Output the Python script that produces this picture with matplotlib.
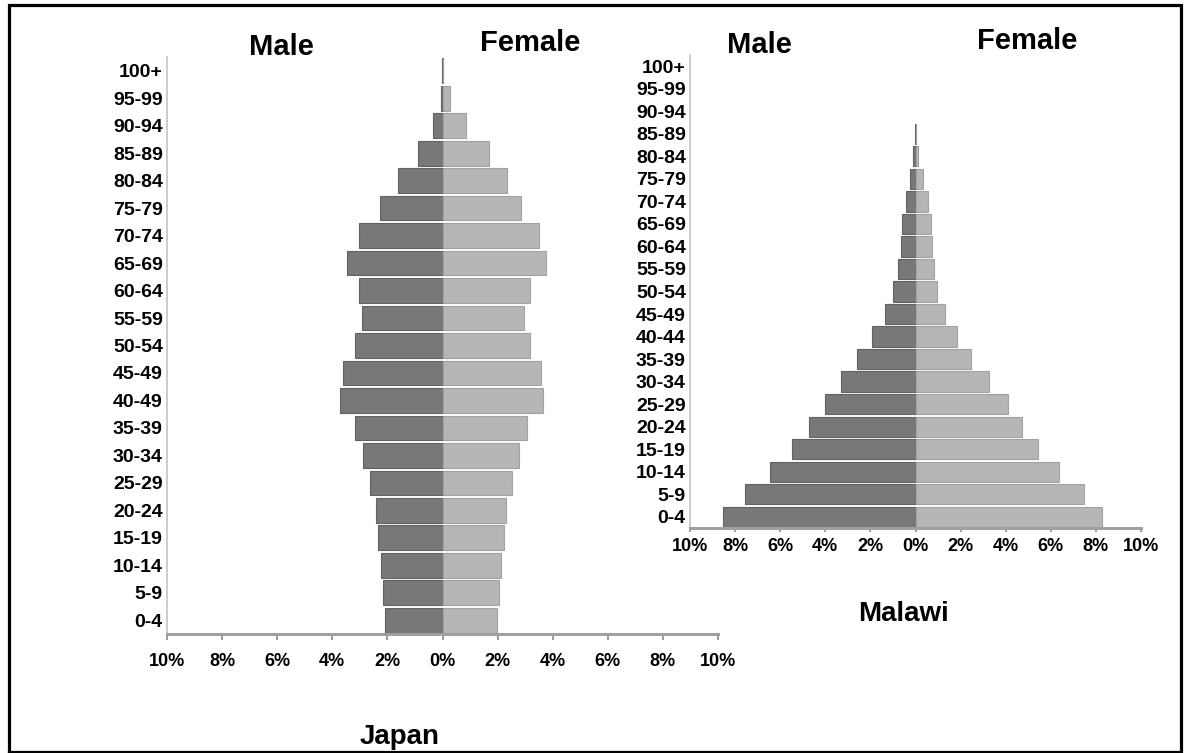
import matplotlib
matplotlib.use("Agg")
import matplotlib.pyplot as plt
from matplotlib.lines import Line2D

plt.rcParams['font.family'] = ['Liberation Sans', 'DejaVu Sans']
plt.rcParams['font.weight'] = 'bold'

# ---------------- data ----------------
japan_ages = ["0-4", "5-9", "10-14", "15-19", "20-24", "25-29", "30-34", "35-39",
              "40-49", "45-49", "50-54", "55-59", "60-64", "65-69", "70-74",
              "75-79", "80-84", "85-89", "90-94", "95-99", "100+"]
japan_male = [2.09, 2.15, 2.22, 2.34, 2.42, 2.62, 2.89, 3.16, 3.71, 3.62, 3.16,
              2.91, 3.04, 3.47, 3.04, 2.26, 1.60, 0.90, 0.33, 0.07, 0.02]
japan_female = [1.99, 2.05, 2.13, 2.25, 2.32, 2.52, 2.78, 3.05, 3.65, 3.56, 3.16,
                2.95, 3.19, 3.76, 3.50, 2.84, 2.35, 1.69, 0.87, 0.27, 0.03]

malawi_ages = ["0-4", "5-9", "10-14", "15-19", "20-24", "25-29", "30-34", "35-39",
               "40-44", "45-49", "50-54", "55-59", "60-64", "65-69", "70-74",
               "75-79", "80-84", "85-89", "90-94", "95-99", "100+"]
malawi_male = [8.52, 7.57, 6.44, 5.48, 4.71, 4.02, 3.29, 2.59, 1.94, 1.36, 1.00,
               0.79, 0.63, 0.60, 0.43, 0.24, 0.13, 0.03, 0.0, 0.0, 0.0]
malawi_female = [8.25, 7.46, 6.38, 5.43, 4.71, 4.08, 3.25, 2.46, 1.83, 1.30, 0.95,
                 0.84, 0.71, 0.68, 0.57, 0.33, 0.13, 0.03, 0.0, 0.0, 0.0]

x_ticks = [-10, -8, -6, -4, -2, 0, 2, 4, 6, 8, 10]
x_tick_labels = ["10%", "8%", "6%", "4%", "2%", "0%", "2%", "4%", "6%", "8%", "10%"]

MALE_C = "#787878"
MALE_E = "#626262"
FEMALE_C = "#b6b6b6"
FEMALE_E = "#a2a2a2"

W, H = 1184, 753
fig = plt.figure(figsize=(W / 100, H / 100), dpi=100)


def fx(px):
    return px / W


def fy(py):
    return 1 - py / H


def pyramid(ax, ages, male, female, tick_pad, tick_len):
    y = list(range(len(ages)))
    lw_m = [0.8 if v > 0 else 0 for v in male]
    lw_f = [0.8 if v > 0 else 0 for v in female]
    ax.barh(y, [-m for m in male], height=0.9, color=MALE_C, edgecolor=MALE_E, linewidth=lw_m)
    ax.barh(y, female, height=0.9, color=FEMALE_C, edgecolor=FEMALE_E, linewidth=lw_f)
    ax.set_xlim(-10, 10)
    ax.set_ylim(-0.5, len(ages) - 0.5)
    ax.set_yticks(y)
    ax.set_yticklabels(ages, fontsize=14, fontweight='bold')
    ax.set_xticks(x_ticks)
    ax.set_xticklabels(x_tick_labels, fontsize=13, fontweight='bold')
    ax.tick_params(axis='y', length=0, pad=3)
    ax.tick_params(axis='x', length=tick_len, width=1.2, color="#8a8a8a", pad=tick_pad)
    ax.set_facecolor('none')
    for s in ['top', 'right']:
        ax.spines[s].set_visible(False)
    ax.spines['bottom'].set_color('#a0a0a0')
    ax.spines['bottom'].set_linewidth(2.2)
    ax.spines['left'].set_color('#c4c4c4')
    ax.spines['left'].set_linewidth(1.2)


# Japan
axj = fig.add_axes([fx(167), fy(634), fx(718) - fx(167), fy(57) - fy(634)])
pyramid(axj, japan_ages, japan_male, japan_female, tick_pad=10, tick_len=4)

# Malawi
axm = fig.add_axes([fx(690), fy(528), fx(1141) - fx(690), fy(55) - fy(528)])
pyramid(axm, malawi_ages, malawi_male, malawi_female, tick_pad=4, tick_len=3)

# headers
kw = dict(fontsize=21, fontweight='bold', ha='center', va='center')
fig.text(fx(281), fy(47), "Male", **kw)
fig.text(fx(530), fy(43), "Female", **kw)
fig.text(fx(759), fy(45), "Male", **kw)
fig.text(fx(1027), fy(41), "Female", **kw)
fig.text(fx(400), fy(737), "Japan", fontsize=20, fontweight='bold', ha='center', va='center')
fig.text(fx(904), fy(614), "Malawi", fontsize=20, fontweight='bold', ha='center', va='center')

# outer frame
frame_x = [fx(9), fx(9), fx(1181), fx(1181), fx(9)]
frame_y = [fy(752), fy(5), fy(5), fy(752), fy(752)]
fig.lines.append(Line2D(frame_x, frame_y, transform=fig.transFigure,
                        color='black', linewidth=2.3, solid_joinstyle='miter'))

fig.savefig("out.png", dpi=100)
